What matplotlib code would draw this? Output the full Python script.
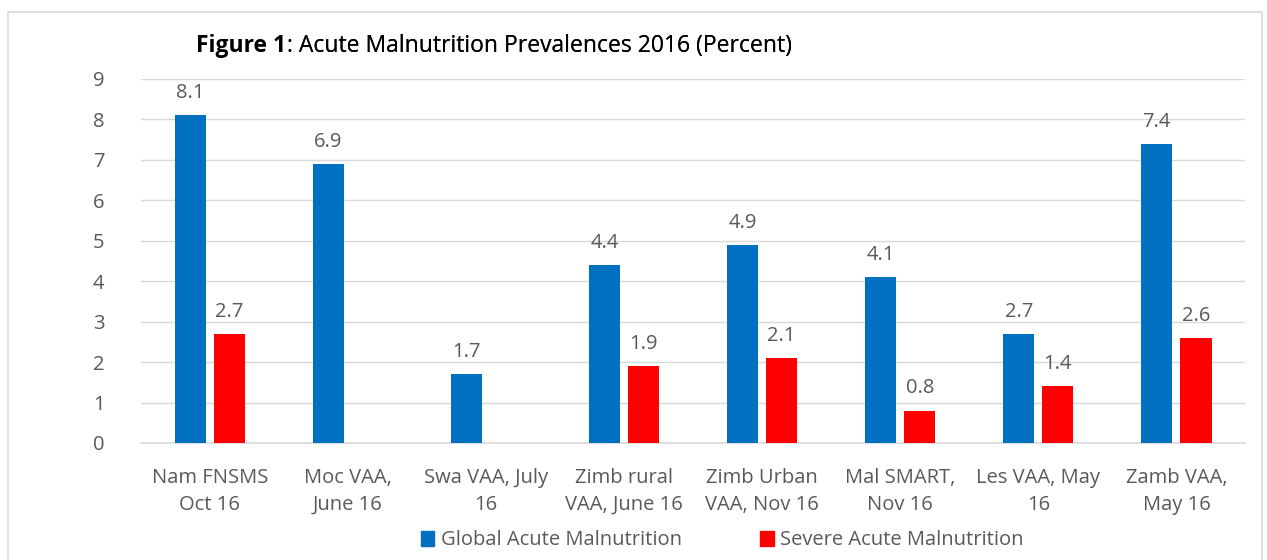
import numpy as np
import matplotlib.pyplot as plt
from matplotlib.patches import Rectangle

# dati
categorie = ['Nam FNSMS\nOct 16', 'Moc VAA,\nJune 16', 'Swa VAA, July\n16', 'Zimb rural\nVAA, June 16',
             'Zimb Urban\nVAA, Nov 16', 'Mal SMART,\nNov 16', 'Les VAA, May\n16', 'Zamb VAA,\nMay 16']
gam = [8.1, 6.9, 1.7, 4.4, 4.9, 4.1, 2.7, 7.4]
sam = [2.7, None, None, 1.9, 2.1, 0.8, 1.4, 2.6]

blu = '#0070C0'
rosso = '#FF0000'
grigio = '#595959'

plt.rcParams['font.family'] = ['Open Sans', 'DejaVu Sans']

fig = plt.figure(figsize=(12.67, 5.6), dpi=100)
ax = fig.add_axes([0.111, 0.209, 0.872, 0.65])

x = np.arange(len(categorie))
w = 0.225
off = 0.142
fs = 14.5

for i in range(len(categorie)):
    ax.bar(x[i] - off, gam[i], w, color=blu, zorder=3)
    ax.text(x[i] - off, gam[i] + 0.3, f'{gam[i]:.1f}', ha='center', va='bottom', fontsize=fs, color=grigio)
    if sam[i] is not None:
        ax.bar(x[i] + off, sam[i], w, color=rosso, zorder=3)
        ax.text(x[i] + off, sam[i] + 0.3, f'{sam[i]:.1f}', ha='center', va='bottom', fontsize=fs, color=grigio)

ax.set_xlim(-0.5, len(categorie) - 0.5)
ax.set_ylim(0, 9)
ax.set_yticks(range(10))
ax.set_xticks(x)
ax.set_xticklabels(categorie, fontsize=fs, color=grigio, linespacing=1.45)
ax.tick_params(axis='y', labelsize=fs, labelcolor=grigio, length=0, pad=26)
ax.tick_params(axis='x', length=0, pad=18)
ax.grid(axis='y', color='#D9D9D9', linewidth=1, zorder=0)
for s in ['top', 'right', 'left']:
    ax.spines[s].set_visible(False)
ax.spines['bottom'].set_color('#D9D9D9')
ax.spines['bottom'].set_linewidth(1.2)

# titolo: "Figure 1" in grassetto, poi il resto subito dopo
t1 = fig.text(0.155, 0.917, 'Figure 1', fontsize=16.5, fontweight='bold', ha='left', va='center', color='black')
fig.add_artist(plt.annotate(': Acute Malnutrition Prevalences 2016 (Percent)', xy=(1, 0.5), xycoords=t1,
                            ha='left', va='center', fontsize=16.5, color='black', annotation_clip=False))

# legenda
fig.patches.append(Rectangle((0.332, 0.025), 0.0105, 0.026, transform=fig.transFigure, color=blu))
fig.text(0.348, 0.036, 'Global Acute Malnutrition', fontsize=fs, color=grigio, va='center')
fig.patches.append(Rectangle((0.600, 0.025), 0.0105, 0.026, transform=fig.transFigure, color=rosso))
fig.text(0.616, 0.036, 'Severe Acute Malnutrition', fontsize=fs, color=grigio, va='center')

# bordo
fig.patches.append(Rectangle((0.006, -0.01), 0.99, 0.988, transform=fig.transFigure,
                             fill=False, edgecolor='#D9D9D9', linewidth=1.2))

fig.savefig('out.png', dpi=100)
